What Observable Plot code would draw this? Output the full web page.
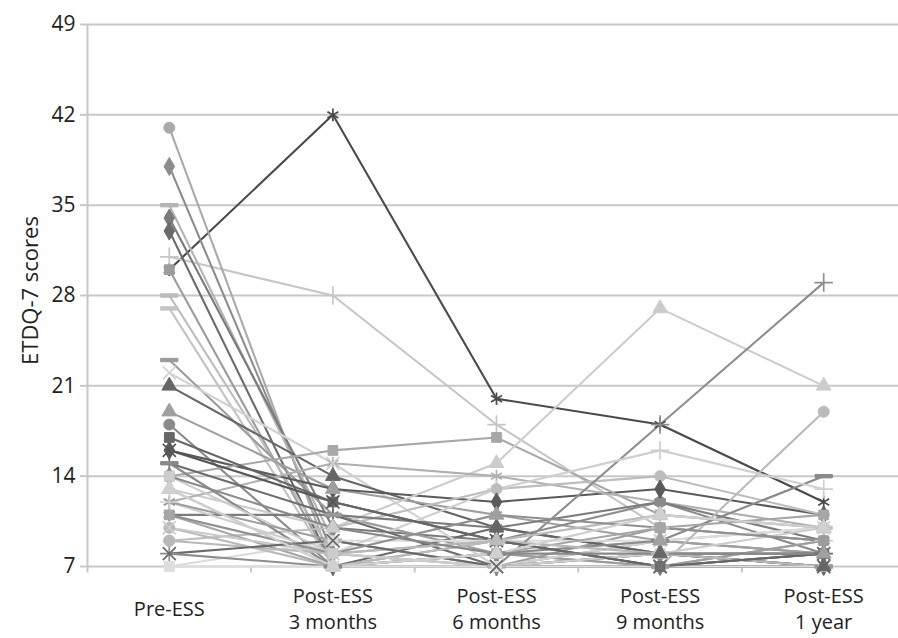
<!DOCTYPE html>
<html><head><meta charset="utf-8">
<script src="https://cdn.jsdelivr.net/npm/d3@7"></script>
<script src="https://cdn.jsdelivr.net/npm/@observablehq/plot@0.6"></script>
<style>body{margin:0;background:#fff}</style>
</head><body><div id="chart"></div>
<script>
// Time points (x categories) and their tick labels
const categories = ["Pre-ESS", "Post-ESS 3 months", "Post-ESS 6 months", "Post-ESS 9 months", "Post-ESS 1 year"];
const tickLabels = ["Pre-ESS", "Post-ESS\n3 months", "Post-ESS\n6 months", "Post-ESS\n9 months", "Post-ESS\n1 year"];
const yTicks = [7, 14, 21, 28, 35, 42, 49];

// One entry per patient: ETDQ-7 score at each time point
const patients = d3.range(1, 41).map(i => "P" + i);
const preESS   = [30,31,41,38,35,34,33,30,28,27,23,22,21,19,18,16,14,13,12, 9,11, 7, 8,10,15,12,16,15,14,13,12,11,10, 9, 8, 7,11,17,13,14];
const post3m   = [42,28, 7, 8, 9,10, 7, 7, 8, 7,11,15,14,13, 7,13,16,10,15,10,11, 9, 7, 7, 7, 8,12,11, 8, 7, 9, 7, 8, 8, 9, 7, 8,12, 7,10];
const post6m   = [20,18, 8, 7, 7, 9,10, 7, 9, 8, 8, 7,10,11, 9,12,17,15,14,13,10, 9, 7, 7, 8,13, 9, 7, 7, 9, 7, 8, 7, 9, 7, 7,11, 9, 8, 8];
const post9m   = [18,10, 7, 9, 8, 7, 8,10, 7, 9, 7, 9, 8, 9,12,13,11,27,12,14,12, 9,18, 7, 9,16, 7, 8, 8,11, 7,10, 7, 8, 7, 7,10, 7,11, 8];
const post1y   = [12, 9, 9, 8, 7, 8, 7, 9, 7,10, 7,10, 7, 8, 8,11,10,21,10,11, 9,10,29,19,14,13, 7, 8,10,10, 9,11, 8, 7, 8, 7, 9, 8,10, 8];

// Marker shade and marker shape of each patient's series
const shades  = ["#4a4a4a","#c6c6c6","#aaaaaa","#8c8c8c","#b4b4b4","#7a7a7a","#6a6a6a","#9c9c9c","#bcbcbc","#c4c4c4",
                 "#9a9a9a","#d2d2d2","#666666","#a0a0a0","#8a8a8a","#5a5a5a","#a8a8a8","#cccccc","#b0b0b0","#bdbdbd",
                 "#7c7c7c","#dcdcdc","#8e8e8e","#bababa","#8a8a8a","#cfcfcf","#555555","#6c6c6c","#cdcdcd","#bbbbbb",
                 "#9e9e9e","#a6a6a6","#cacaca","#b8b8b8","#6a6a6a","#dedede","#909090","#666666","#d0d0d0","#888888"];
const shapes  = ["asterisk","plus","circle","diamond","dash","diamond","diamond","square","dash","dash",
                 "dash","times","triangle","triangle","circle","diamond","square","triangle","asterisk","circle",
                 "asterisk","square","plus","circle","dash","plus","times","plus","square","triangle",
                 "asterisk","square","times","circle","times","square","asterisk","square","triangle","diamond"];

const series = [preESS, post3m, post6m, post9m, post1y];
const rows = [];
patients.forEach((id, i) => {
  series.forEach((s, t) => rows.push({id, t, v: s[i], shade: shades[i], shape: shapes[i]}));
});

const dash = {draw(ctx, size) {
  const w = Math.sqrt(size) * 0.75, h = 1.7;
  ctx.moveTo(-w, -h); ctx.lineTo(w, -h); ctx.lineTo(w, h); ctx.lineTo(-w, h); ctx.closePath();
}};
const strokeShapes = new Set(["plus", "times", "asterisk"]);
const dotMarks = Array.from(new Set(shapes)).map(sh => {
  const data = rows.filter(d => d.shape === sh);
  const sym = sh === "dash" ? dash : sh;
  return strokeShapes.has(sh)
    ? Plot.dot(data, {x: "t", y: "v", symbol: sym, r: 6, stroke: "shade", strokeWidth: 1.7, fill: "none"})
    : Plot.dot(data, {x: "t", y: "v", symbol: sym, r: sh === "dash" ? 6.5 : 5.5, fill: "shade", stroke: "shade", strokeWidth: 1});
});

const idx = categories.map((_, i) => i);
const chart = Plot.plot({
  width: 898, height: 638,
  marginLeft: 87, marginRight: 0, marginTop: 24, marginBottom: 72,
  style: {fontFamily: "'Open Sans', sans-serif", fontSize: "20px", color: "#222", background: "#fff"},
  x: {domain: [-0.5, categories.length - 0.5], range: [87, 905], axis: null},
  y: {domain: [7, 49], axis: null},
  color: {type: "identity"},
  marks: [
    Plot.gridY(yTicks, {stroke: "#c8c8c8", strokeOpacity: 1, strokeWidth: 2}),
    Plot.ruleX([-0.5], {y1: 6.5, y2: 49, stroke: "#c8c8c8", strokeWidth: 2}),
    Plot.ruleX(idx.slice(1).map(i => i - 0.5), {y1: 7, y2: 6.5, stroke: "#c8c8c8", strokeWidth: 2}),
    Plot.axisY(yTicks, {tickSize: 7, tickPadding: 5, stroke: "#c8c8c8", strokeWidth: 2, fontSize: 21, fill: "#222", label: null}),
    Plot.text(["ETDQ-7 scores"], {frameAnchor: "left", textAnchor: "middle", rotate: -90, dx: -57, dy: -5, fontSize: 22, fill: "#222"}),
    Plot.text(idx, {x: d => d, text: d => tickLabels[d], frameAnchor: "bottom", dy: 41, lineAnchor: "middle", lineHeight: 1.3, fontSize: 20, fill: "#222"}),
    Plot.line(rows, {x: "t", y: "v", z: "id", stroke: "shade", strokeWidth: 2.1}),
    ...dotMarks
  ]
});
document.getElementById("chart").append(chart);
</script></body></html>
